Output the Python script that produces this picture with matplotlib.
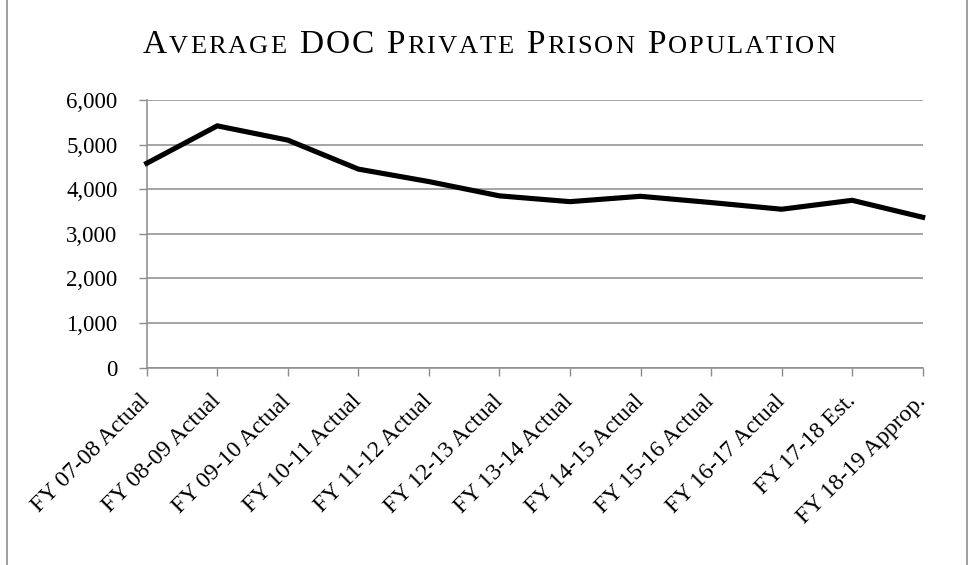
import matplotlib
matplotlib.use("Agg")
import matplotlib.pyplot as plt
from matplotlib.lines import Line2D

categories = ["FY 07-08 Actual", "FY 08-09 Actual", "FY 09-10 Actual", "FY 10-11 Actual",
              "FY 11-12 Actual", "FY 12-13 Actual", "FY 13-14 Actual", "FY 14-15 Actual",
              "FY 15-16 Actual", "FY 16-17 Actual", "FY 17-18 Est.", "FY 18-19 Approp."]
population = [4580, 5420, 5100, 4450, 4170, 3850, 3720, 3840, 3700, 3550, 3750, 3370]
y_ticks = [0, 1000, 2000, 3000, 4000, 5000, 6000]
title = "Average DOC Private Prison Population"

SERIF = ["Liberation Serif", "DejaVu Serif"]
W, H = 971, 565
GRID = "#8c8c8c"

fig = plt.figure(figsize=(W / 100, H / 100), dpi=100)
ax = fig.add_axes([146.7 / W, 1 - 367.5 / H, (922.7 - 146.7) / W, (367.5 - 100) / H])

x = list(range(len(categories)))
ax.plot(x, population, color="black", lw=3.7, solid_joinstyle="miter", zorder=3, clip_on=False)

ax.set_xlim(0, len(categories) - 1)
ax.set_ylim(0, 6000)
ax.set_yticks(y_ticks)
ax.set_yticklabels([f"{v:,}" for v in y_ticks], fontfamily=SERIF, fontsize=16.5)
ax.set_xticks(x)
ax.set_xticklabels(categories, fontfamily=SERIF, fontsize=17, rotation=45,
                   ha="right", va="center", rotation_mode="anchor")
ax.tick_params(axis="y", length=6, width=1, color=GRID, pad=15)
ax.tick_params(axis="x", length=6, width=1, color=GRID, pad=16)
ax.grid(axis="y", color=GRID, lw=1.1)
ax.set_axisbelow(True)
for s in ["top", "right"]:
    ax.spines[s].set_visible(False)
for s in ["left", "bottom"]:
    ax.spines[s].set_color(GRID)
    ax.spines[s].set_linewidth(1.1)

# chart frame lines
for px in (6.5, 966.5):
    fig.add_artist(Line2D([px / W, px / W], [0, 1], color=GRID, lw=1.2, transform=fig.transFigure))

# small-caps title, placed character by character
big, small = 24, 19
fig.canvas.draw()
r = fig.canvas.get_renderer()

def width(s, size):
    t = fig.text(0, 0, s, fontsize=size, family=SERIF)
    bb = t.get_window_extent(r)
    t.remove()
    return bb.width

words = []
for word in title.split(" "):
    wc = []
    for ch in word:
        if ch.isupper():
            wc.append((ch, big))
        else:
            wc.append((ch.upper(), small))
    words.append(wc)

space = width("H H", big) - width("HH", big)
natural = 0
gaps = 0
advs = []
for wc in words:
    a = [width("H" + ch + "H", sz) - width("HH", sz) for ch, sz in wc]
    advs.append(a)
    natural += sum(a)
    gaps += len(wc) - 1
natural += space * (len(words) - 1)
word_extra = 2.0  # word gaps get this many tracking units
gaps += word_extra * (len(words) - 1)
left_px, right_px = 143, 835
track = (right_px - left_px - natural) / gaps

xpos = left_px
base_y = (H - 53) / H
for wi, (wc, a) in enumerate(zip(words, advs)):
    for ci, ((ch, sz), ad) in enumerate(zip(wc, a)):
        fig.text(xpos / W, base_y, ch, fontsize=sz, family=SERIF, va="baseline", ha="left")
        xpos += ad + (track if ci < len(wc) - 1 else 0)
    xpos += space + word_extra * track

fig.savefig("out.png", dpi=100)
